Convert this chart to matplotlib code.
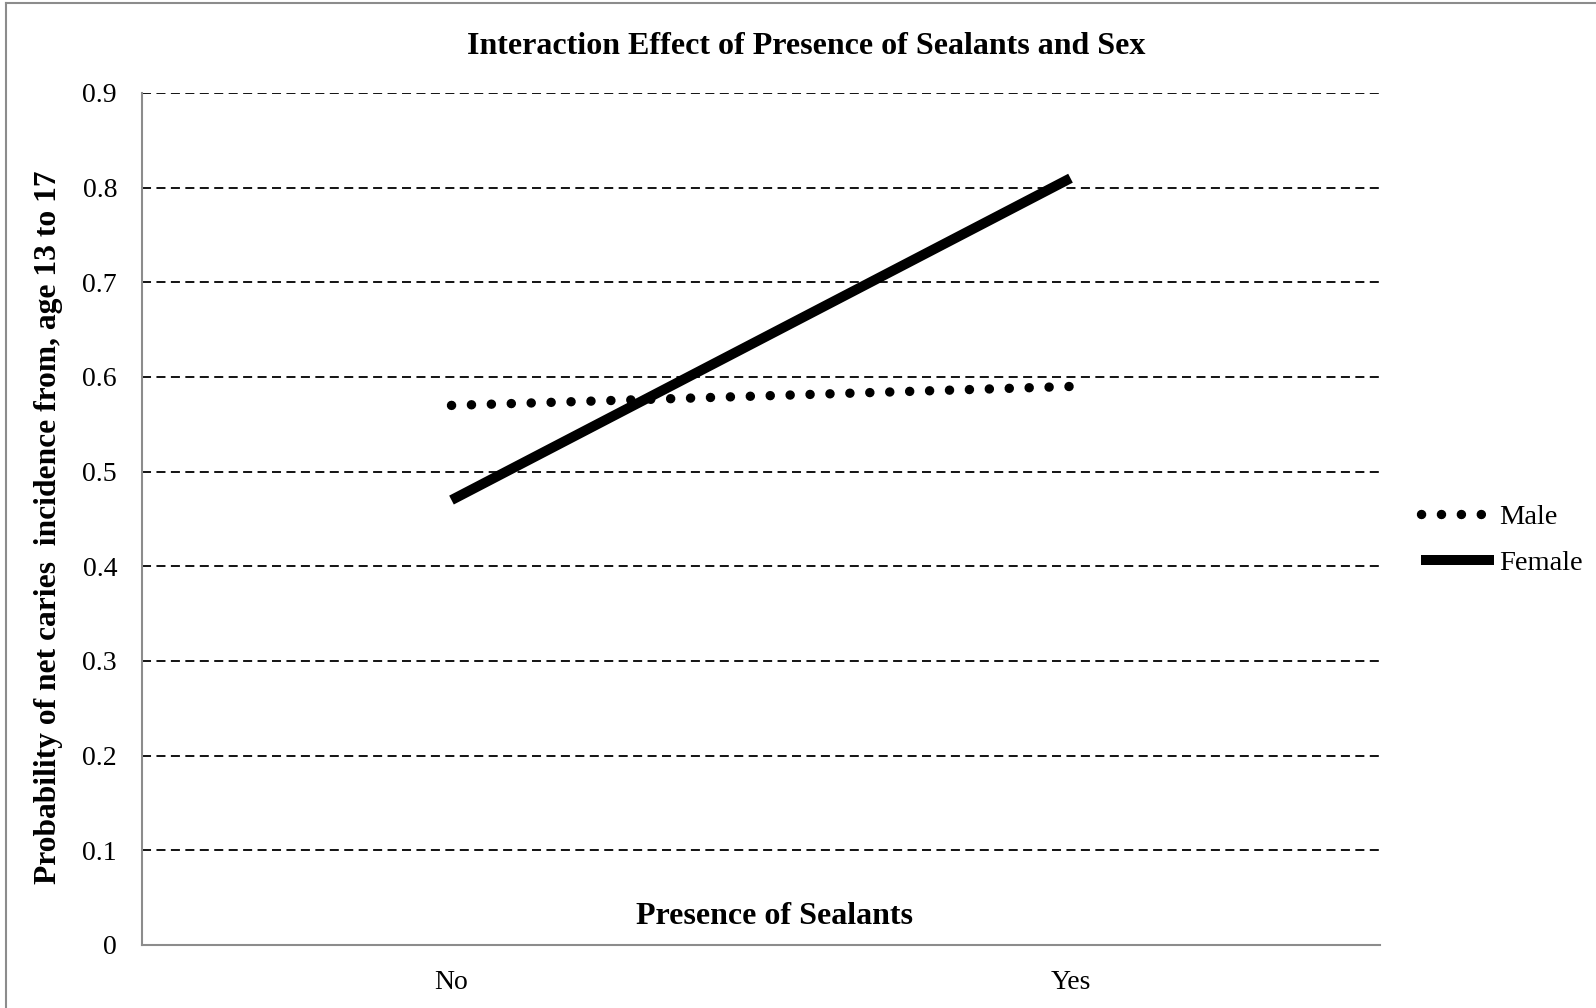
import matplotlib
matplotlib.use("Agg")
import matplotlib.pyplot as plt
from matplotlib.lines import Line2D

categories = ["No", "Yes"]
male = [0.57, 0.59]
female = [0.47, 0.81]
yticks = [0, 0.1, 0.2, 0.3, 0.4, 0.5, 0.6, 0.7, 0.8, 0.9]
ytick_labels = ["0", "0.1", "0.2", "0.3", "0.4", "0.5", "0.6", "0.7", "0.8", "0.9"]

plt.rcParams['font.family'] = ['Liberation Serif', 'DejaVu Serif']

W, H = 1596, 1008
fig = plt.figure(figsize=(W/100, H/100), dpi=100)
ax = fig.add_axes([142/W, 1 - 945/H, (1380-142)/W, (945-93)/H])

x = list(range(len(categories)))
ax.plot(x, male, color='black', linewidth=6.8, linestyle=(0, (0.01, 2.1)),
        dash_capstyle='round', label='Male', zorder=3)
ax.plot(x, female, color='black', linewidth=7.2, solid_capstyle='butt',
        label='Female', zorder=3)

ax.set_xlim(-0.5, 1.5)
ax.set_ylim(0, 0.9)
ax.set_yticks(yticks)
ax.set_yticklabels(ytick_labels)
ax.set_xticks(x)
ax.set_xticklabels(categories)
ax.tick_params(axis='both', length=0, labelsize=20, pad=18)
for y in yticks[1:]:
    ax.axhline(y, color='black', linewidth=1.3, linestyle=(0, (5, 3)), zorder=1)
for s in ['top', 'right']:
    ax.spines[s].set_visible(False)
for s in ['left', 'bottom']:
    ax.spines[s].set_color('#8c8c8c')
    ax.spines[s].set_linewidth(1.5)

fig.text(806/W, 1 - 47/H, "Interaction Effect of Presence of Sealants and Sex",
         ha='center', va='center', fontsize=23, fontweight='bold')
fig.text(49/W, 1 - 527/H, "Probability of net caries  incidence from, age 13 to 17",
         ha='center', va='center', rotation=90, fontsize=22.7, fontweight='bold')
fig.text(774/W, 1 - 917/H, "Presence of Sealants",
         ha='center', va='center', fontsize=23, fontweight='bold')

leg = ax.legend(loc='center left', bbox_to_anchor=(1421/W, 1 - 540/H),
                bbox_transform=fig.transFigure, frameon=False, fontsize=20.5,
                handlelength=2.55, handletextpad=0.2, labelspacing=0.7,
                borderpad=0, borderaxespad=0)

# partial outer frame (left and top edges)
fig.add_artist(Line2D([6/W, 6/W], [0, 1 - 3/H], transform=fig.transFigure,
                      color='#8c8c8c', linewidth=1.5))
fig.add_artist(Line2D([6/W, 1], [1 - 3/H, 1 - 3/H], transform=fig.transFigure,
                      color='#8c8c8c', linewidth=1.5))

fig.savefig("out.png", dpi=100)
